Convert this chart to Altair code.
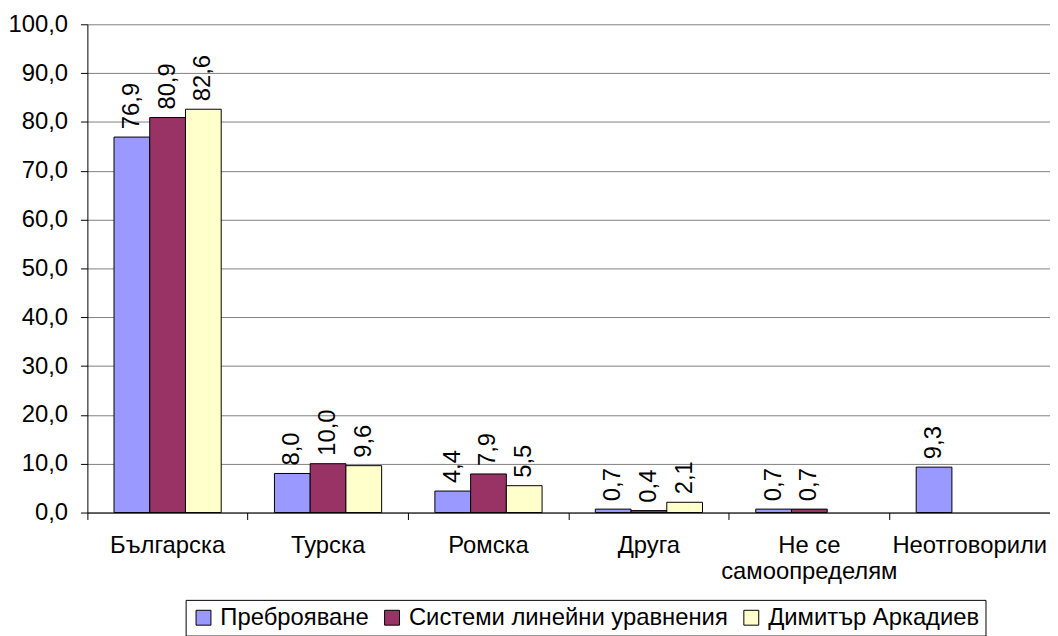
import altair as alt
import pandas as pd

categories = ["Българска", "Турска", "Ромска", "Друга", "Не се|самоопределям", "Неотговорили"]
series = ["Преброяване", "Системи линейни уравнения", "Димитър Аркадиев"]
census = [76.9, 8.0, 4.4, 0.7, 0.7, 9.3]
linear_eq = [80.9, 10.0, 7.9, 0.4, 0.7, None]
arkadiev = [82.6, 9.6, 5.5, 2.1, None, None]
colors = ["#9999FF", "#993366", "#FFFFCC"]
y_ticks = [0, 10, 20, 30, 40, 50, 60, 70, 80, 90, 100]

rows = []
for s, vals in zip(series, [census, linear_eq, arkadiev]):
    for c, v in zip(categories, vals):
        if v is not None:
            rows.append({"cat": c, "series": s, "value": v,
                         "label": f"{v:.1f}".replace(".", ",")})
df = pd.DataFrame(rows)

W = 970
H = 492
FONT = "Liberation Sans"
FS = 24

x = alt.X(
    "cat:N", sort=categories,
    scale=alt.Scale(domain=categories, paddingInner=0, paddingOuter=0),
    axis=alt.Axis(
        title=None, labelAngle=0, bandPosition=0,
        tickSize=7, tickColor="black", domainColor="black",
        labelFontSize=FS, labelFont=FONT, labelColor="black",
        labelPadding=14, labelLineHeight=26, labelBaseline="top",
        labelExpr="split(datum.label, '|')", labelOverlap=False,
        labelLimit=400, grid=False,
    ),
)
xo = alt.XOffset(
    "series:N", sort=series,
    scale=alt.Scale(domain=series, paddingInner=0, paddingOuter=0.745),
)
y = alt.Y(
    "value:Q",
    scale=alt.Scale(domain=[0, 100], nice=False),
    axis=alt.Axis(
        title=None, values=y_ticks,
        labelExpr="replace(format(datum.value, '.1f'), '.', ',')",
        tickSize=7, tickColor="black", domainColor="black",
        grid=True, gridColor="#808080", gridWidth=1,
        labelFontSize=FS, labelFont=FONT, labelColor="black", labelPadding=13,
    ),
)
color = alt.Color(
    "series:N", sort=series,
    scale=alt.Scale(domain=series, range=colors),
    legend=alt.Legend(
        title=None, orient="none", legendX=99, legendY=580,
        direction="horizontal", strokeColor="black", fillColor="white",
        padding=6, symbolType="square", symbolSize=225,
        symbolStrokeColor="black", symbolStrokeWidth=1, symbolOpacity=1,
        labelFontSize=FS, labelFont=FONT, labelColor="black",
        labelLimit=500, labelOffset=5, columnPadding=11,
    ),
)

bars = alt.Chart(df).mark_bar(stroke="black", strokeWidth=1, opacity=1).encode(
    x=x, xOffset=xo, y=y, color=color
)
labels = alt.Chart(df).mark_text(
    angle=270, align="left", baseline="middle", dx=8,
    fontSize=FS, font=FONT, color="black"
).encode(x=x, xOffset=xo, y=y, text="label:N")

chart = alt.layer(bars, labels).properties(
    width=W, height=H,
    autosize=alt.AutoSizeParams(type="none"),
    padding={"left": 80, "top": 14, "right": 0, "bottom": 122},
).configure_view(stroke="transparent")

chart.save("out.html", embed_options={"renderer": "svg", "actions": False})
